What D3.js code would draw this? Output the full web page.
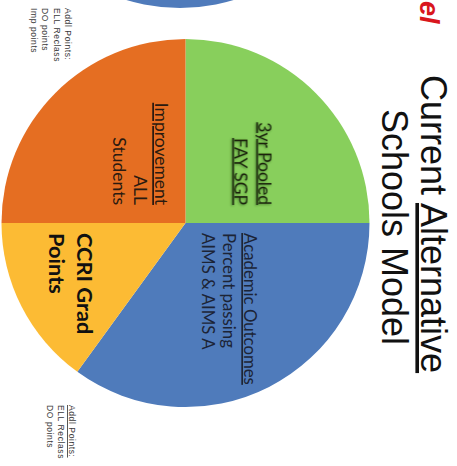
<!DOCTYPE html>
<html>
<head>
<meta charset="utf-8">
<script src="https://cdn.jsdelivr.net/npm/d3@7"></script>
<style>
  html, body { margin: 0; padding: 0; background: #fff; }
  svg { display: block; }
</style>
</head>
<body>
<script>
// Slide content: a four-part pie of the accountability model components
const sliceNames = ["3yr Pooled FAY SGP", "Academic Outcomes", "CCRI Grad Points", "Improvement ALL Students"];
const sliceShares = [25, 35, 15, 25];
const sliceLines = [
  ["3yr Pooled", "FAY SGP"],
  ["Academic Outcomes", "Percent passing", "AIMS & AIMS A"],
  ["CCRI Grad", "Points"],
  ["Improvement", "ALL", "Students"]
];
const titleLines = ["Current ", "Alternative", "Schools Model"];
const notesTop = ["Addl Points:", "ELL Reclass", "DO points", "Imp points"];
const notesBottom = ["Addl Points:", "ELL Reclass", "DO points"];

const palette = ["#88cf5c", "#4f7bbb", "#fcbb34", "#e56e22"];

const W = 457, H = 466;
const svg = d3.select("body").append("svg")
  .attr("width", W).attr("height", H);

const defs = svg.append("defs");
const glow = defs.append("filter").attr("id", "glow")
  .attr("x", "-10%").attr("y", "-30%").attr("width", "120%").attr("height", "160%");
glow.append("feDropShadow").attr("dx", 0.8).attr("dy", 0.8)
  .attr("stdDeviation", 0.9).attr("flood-color", "#2f5d1c").attr("flood-opacity", 0.7);

// The slide is laid out in its own frame and turned a quarter turn clockwise
const slide = svg.append("g").attr("transform", `translate(${W},0) rotate(90)`);

const cx = 223, cy = 271.5, R = 184;

// edge of the neighbouring pie peeking in from the slide's left margin
slide.append("circle")
  .attr("cx", cx - 399).attr("cy", cy + 5.5).attr("r", R)
  .attr("fill", palette[1]);

// red tail of the previous title
slide.append("text")
  .attr("x", 1).attr("y", 37)
  .attr("text-anchor", "start")
  .attr("font-family", "Liberation Sans, Arial, sans-serif")
  .attr("font-size", 27).attr("font-weight", "bold").attr("font-style", "italic")
  .attr("fill", "#d9161d")
  .text("el");

const pie = d3.pie().sort(null).value(d => d)
  .startAngle(-Math.PI / 2).endAngle(3 * Math.PI / 2);
const arc = d3.arc().innerRadius(0).outerRadius(R);

const pieG = slide.append("g").attr("transform", `translate(${cx},${cy})`);
pieG.selectAll("path")
  .data(pie(sliceShares))
  .join("path")
  .attr("d", arc)
  .attr("fill", (d, i) => palette[i]);

// slice labels
const labelFont = "Lato, 'Open Sans', sans-serif";
const labelSpecs = [
  { x: -18, y: [-73.5, -49.5], anchor: "end", size: 17.5, weight: "normal", fill: "#1b2410", underline: [true, true], filter: "url(#glow)" },
  { x: 10, y: [-58.5, -37.5, -16.5], anchor: "start", size: 16.8, weight: "normal", fill: "#1c2436", underline: [true, false, false] },
  { x: 10, y: [108.5, 136.5], anchor: "start", size: 21.8, weight: "bold", fill: "#111", underline: [false, false] },
  { x: -18, y: [30.5, 51.5, 72.5], anchor: "end", size: 17.5, weight: "normal", fill: "#2a1a10", underline: [true, false, false] }
];

sliceLines.forEach((lines, i) => {
  const s = labelSpecs[i];
  const t = pieG.append("text")
    .attr("text-anchor", s.anchor)
    .attr("font-family", labelFont)
    .attr("font-size", s.size)
    .attr("font-weight", s.weight)
    .attr("fill", s.fill)
    .attr("filter", s.filter || null);
  lines.forEach((line, j) => {
    t.append("tspan")
      .attr("x", s.x).attr("y", s.y[j])
      .style("text-decoration", s.underline[j] ? "underline" : "none")
      .text(line);
  });
});

// title
const titleFont = "Liberation Sans, Arial, sans-serif";
const t1 = slide.append("text")
  .attr("x", 224).attr("y", 36)
  .attr("text-anchor", "middle")
  .attr("font-family", titleFont).attr("font-size", 36).attr("fill", "#111");
t1.append("tspan").text(titleLines[0]);
t1.append("tspan").style("text-decoration", "underline").text(titleLines[1]);
slide.append("text")
  .attr("x", 227).attr("y", 75)
  .attr("text-anchor", "middle")
  .attr("font-family", titleFont).attr("font-size", 36).attr("fill", "#111")
  .text(titleLines[2]);

// side notes
function notes(lines, x, y0, step, size, underlineFirst) {
  const t = slide.append("text")
    .attr("font-family", titleFont).attr("font-size", size)
    .attr("letter-spacing", 0.6).attr("fill", "#3a3a3a");
  lines.forEach((line, j) => {
    t.append("tspan").attr("x", x).attr("y", y0 + j * step)
      .style("text-decoration", underlineFirst && j === 0 ? "underline" : "none")
      .text(line);
  });
}
notes(notesTop, 8, 392, 11.5, 8.5, false);
notes(notesBottom, 405, 388, 11, 8.5, true);
</script>
</body>
</html>
